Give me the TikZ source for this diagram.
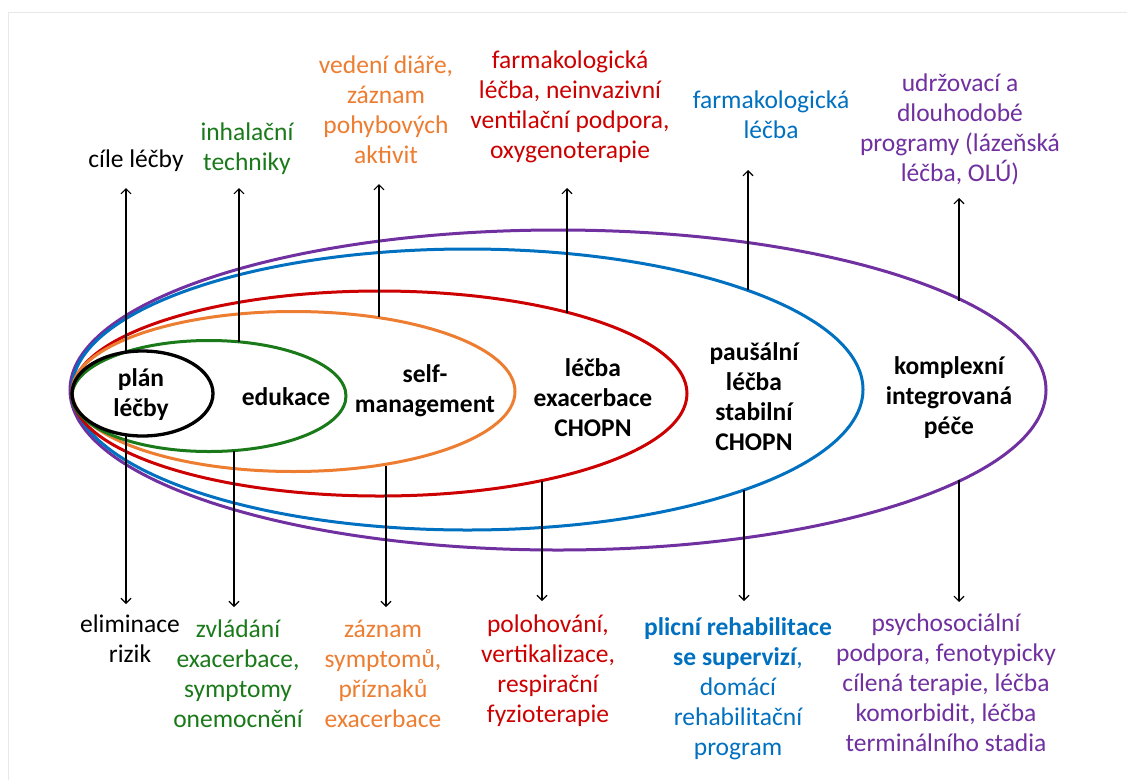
\documentclass[tikz,border=0pt]{standalone}
\usepackage{fontspec}
\setmainfont{Carlito}
\usetikzlibrary{arrows.meta}
\definecolor{cpurple}{RGB}{112,48,160}
\definecolor{cblue}{RGB}{0,112,192}
\definecolor{cred}{RGB}{204,0,0}
\definecolor{corange}{RGB}{237,125,49}
\definecolor{cgreen}{RGB}{26,122,26}
\definecolor{cframe}{RGB}{232,232,232}
\begin{document}
\begin{tikzpicture}[x=1pt,y=-1pt,
  lbl/.style={align=center, font=\fontsize{25.5}{30}\selectfont, inner sep=0pt},
  inlbl/.style={align=center, font=\fontsize{25.5}{30}\selectfont\bfseries, inner sep=0pt},
  ring/.style={line width=3pt},
  arr/.style={line width=1.1pt, -{Straight Barb[length=5pt,width=10pt]}}]
\useasboundingbox[fill=white] (0,0) rectangle (1127,780);
\draw[cframe, line width=1pt] (8,780) -- (8,12) -- (1127,12);
% rings
\draw[ring, cpurple] (558,390) ellipse [x radius=488, y radius=160];
\draw[ring, cblue] (467.5,389.5) ellipse [x radius=395.5, y radius=140.5];
\draw[ring, cred] (379.5,393.5) ellipse [x radius=307.5, y radius=102.5];
\draw[ring, corange] (293.5,391.5) ellipse [x radius=221.5, y radius=80];
\draw[ring, cgreen] (209,396) ellipse [x radius=137, y radius=55.5];
\draw[ring, black, line width=3.3pt] (142.5,393.5) ellipse [x radius=70.5, y radius=42.5];
% inner labels
\node[inlbl] (i1) at (141,395) {plán\\léčby};
\node[inlbl] (i2) at (286,397) {edukace};
\node[inlbl] (i3) at (425,391) {self-\\management};
\node[inlbl] (i4) at (593,398) {léčba\\exacerbace\\CHOPN};
\node[inlbl] (i5) at (754,397) {paušální\\léčba\\stabilní\\CHOPN};
\node[inlbl] (i6) at (949,398) {komplexní\\integrovaná\\péče};
% top labels
\node[lbl] (t1) at (136,161) {cíle léčby};
\node[lbl,text=cgreen] (t2) at (247,149) {inhalační\\techniky};
\node[lbl,text=corange] (t3) at (386,110) {vedení diáře,\\záznam\\pohybových\\aktivit};
\node[lbl,text=cred] (t4) at (570,107) {farmakologická\\léčba, neinvazivní\\ventilační podpora,\\oxygenoterapie};
\node[lbl,text=cblue] (t5) at (771,115) {farmakologická\\léčba};
\node[lbl,text=cpurple] (t6) at (960,129) {udržovací a\\dlouhodobé\\programy (lázeňská\\léčba, OLÚ)};
% bottom labels
\node[lbl] (b1) at (130,639) {eliminace\\rizik};
\node[lbl,text=cgreen] (b2) at (238,674) {zvládání\\exacerbace,\\symptomy\\onemocnění};
\node[lbl,text=corange] (b3) at (383,674) {záznam\\symptomů,\\příznaků\\exacerbace};
\node[lbl,text=cred] (b4) at (548,671) {polohování,\\vertikalizace,\\respirační\\fyzioterapie};
\node[lbl,text=cblue] (b5) at (738,689) {\textbf{plicní rehabilitace}\\\textbf{se supervizí},\\domácí\\rehabilitační\\program};
\node[lbl,text=cpurple] (b6) at (946,683) {psychosociální\\podpora, fenotypicky\\cílená terapie, léčba\\komorbidit, léčba\\terminálního stadia};
% arrow coordinates
\coordinate (u1s) at (126,352.5); \coordinate (u1e) at (126,188);
\coordinate (d1s) at (126,434.5); \coordinate (d1e) at (126,604);
\coordinate (u2s) at (239,341.8); \coordinate (u2e) at (239,188);
\coordinate (d2s) at (234,450.6); \coordinate (d2e) at (234,607);
\coordinate (u3s) at (379,317.3); \coordinate (u3e) at (379,184);
\coordinate (d3s) at (386,465.5); \coordinate (d3e) at (386,607);
\coordinate (u4s) at (567,312.5); \coordinate (u4e) at (567,188);
\coordinate (d4s) at (542,480.5); \coordinate (d4e) at (542,601);
\coordinate (u5s) at (748,289.5); \coordinate (u5e) at (748,170);
\coordinate (d5s) at (744,489.5); \coordinate (d5e) at (744,601);
\coordinate (u6s) at (959,300.5); \coordinate (u6e) at (959,198);
\coordinate (d6s) at (959,479.5); \coordinate (d6e) at (959,602);
\foreach \k in {1,...,6}{
  \draw[arr] (u\k s) -- (u\k e);
  \draw[arr] (d\k s) -- (d\k e);
}
\end{tikzpicture}
\end{document}
